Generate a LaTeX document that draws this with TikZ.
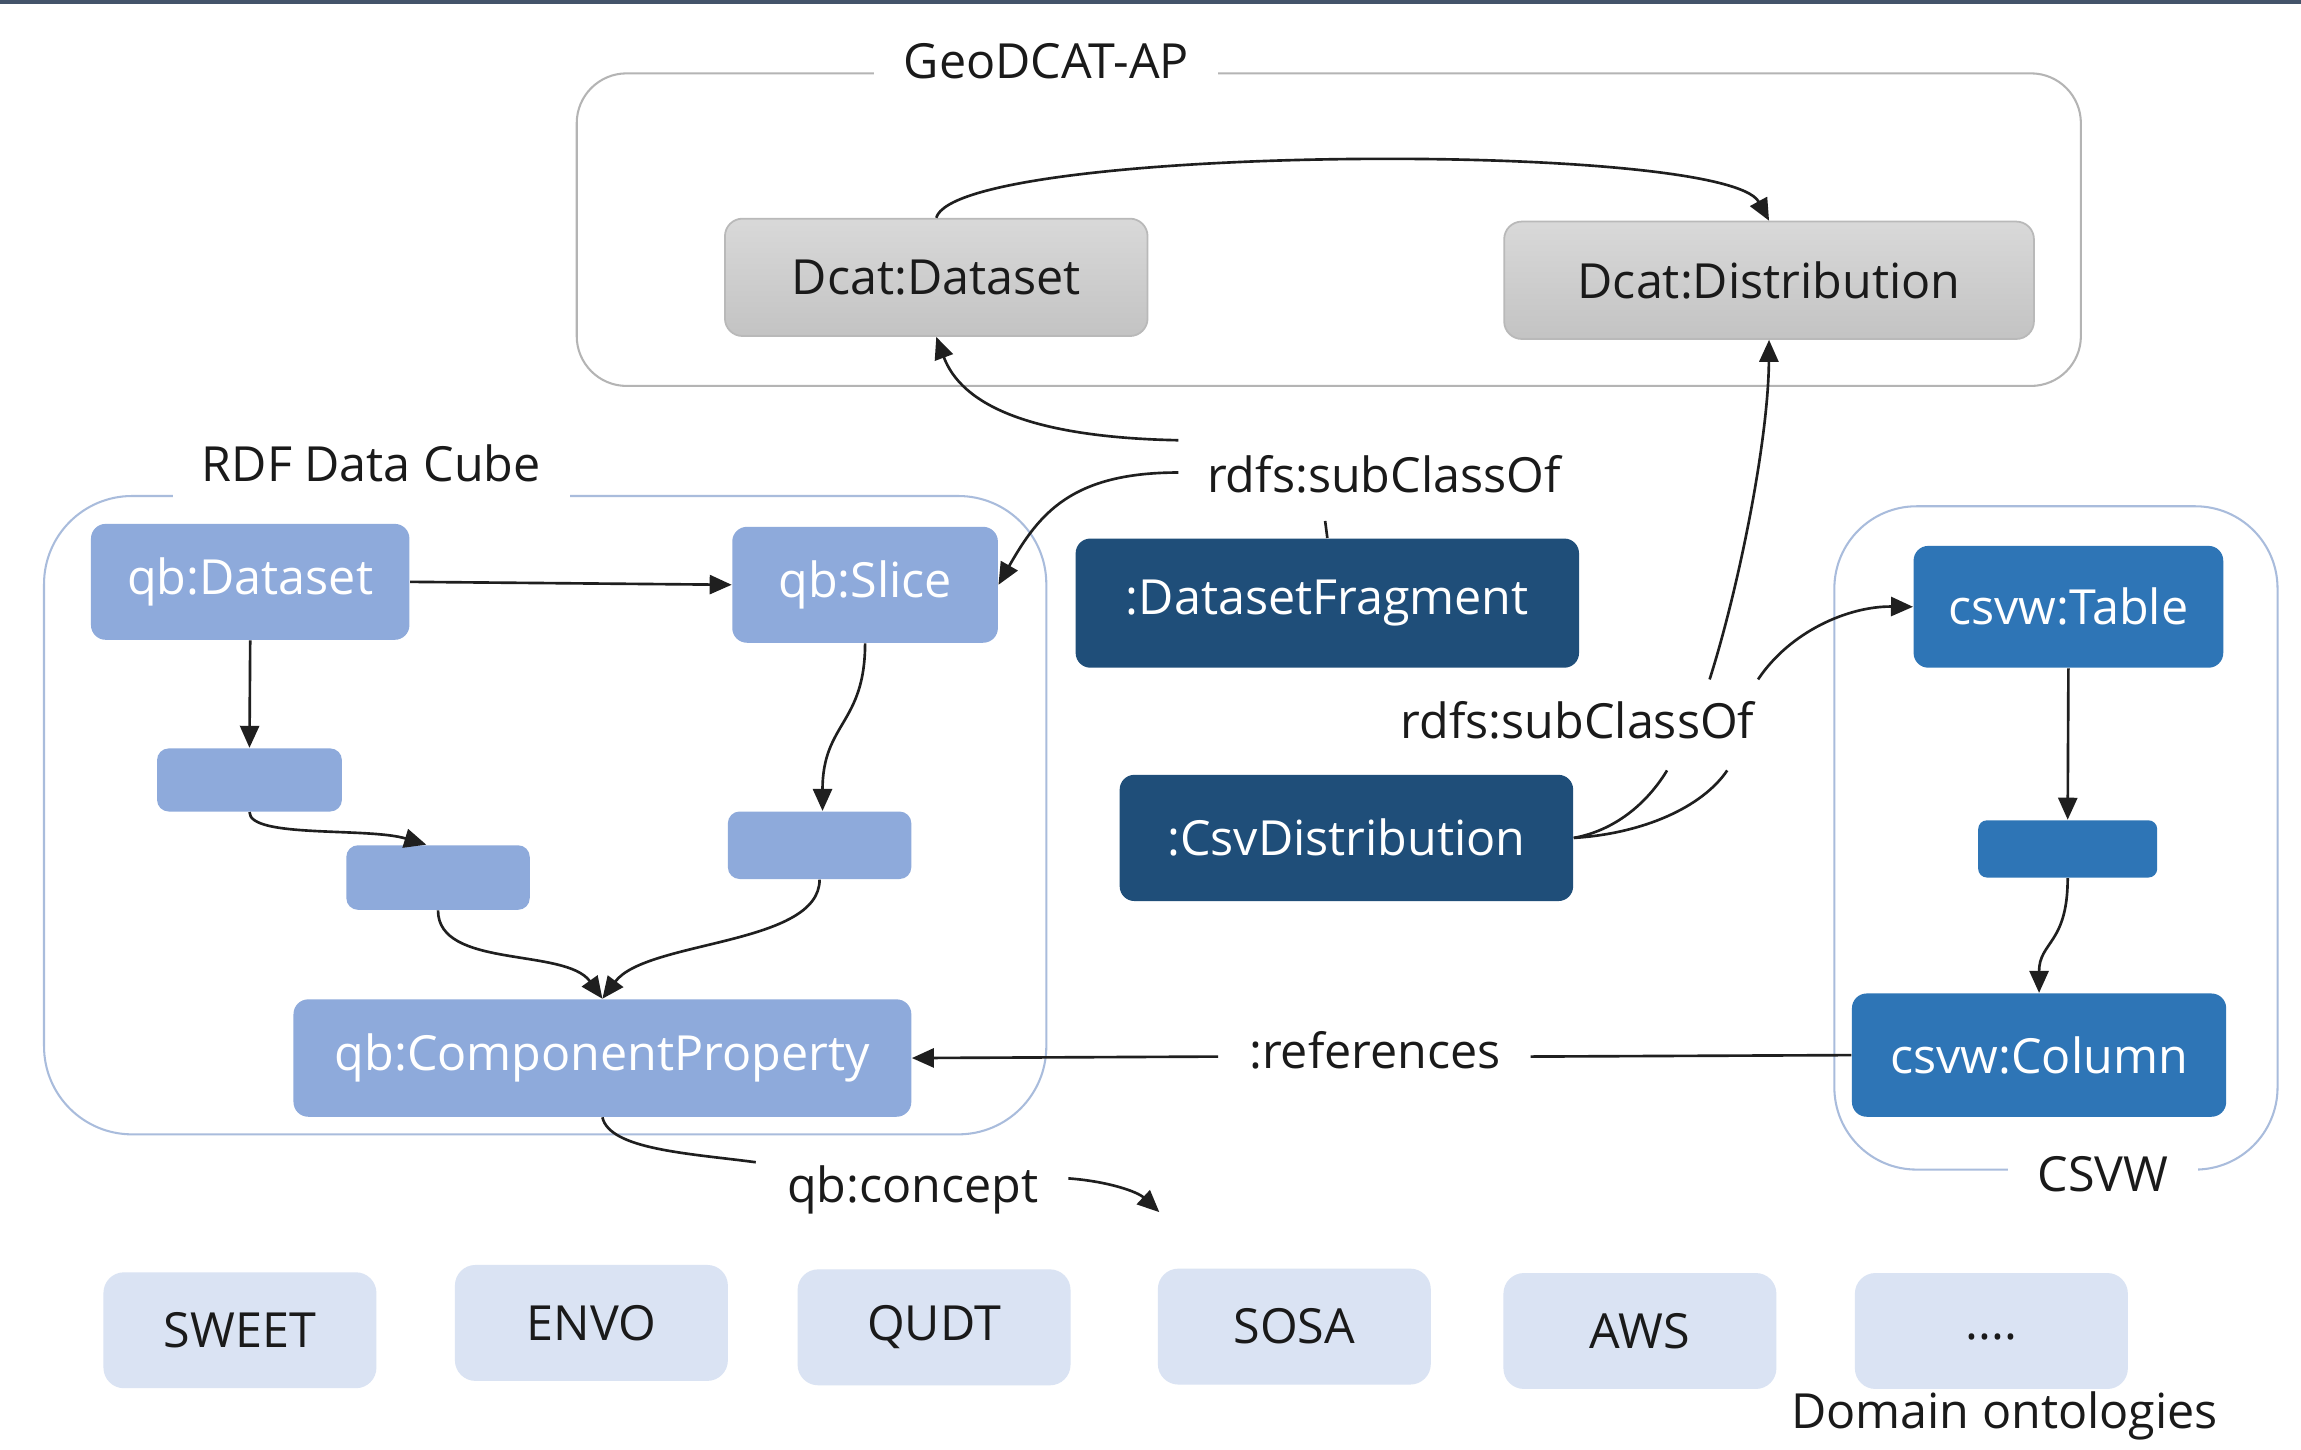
\documentclass[tikz,border=0pt]{standalone}
\usepackage{fontspec}
\setmainfont{Open Sans}
\usetikzlibrary{arrows.meta,calc}
\definecolor{qbblue}{HTML}{8EAADB}
\definecolor{darkblue}{HTML}{1F4E79}
\definecolor{csvwblue}{HTML}{2E75B6}
\definecolor{ontoblue}{HTML}{DAE3F3}
\definecolor{grayborder}{HTML}{B4B4B4}
\definecolor{blueborder}{HTML}{A9BCDC}
\definecolor{topline}{HTML}{44546A}
\definecolor{txt}{HTML}{1A1A1A}
\begin{document}
\begin{tikzpicture}[x=0.5pt,y=-0.5pt,
  font=\fontsize{16.5}{20}\selectfont,
  box/.style={rectangle, rounded corners=5pt, inner sep=0pt, align=center},
  wh/.style 2 args={minimum width=#1, minimum height=#2},
  graybox/.style={box, rounded corners=6pt, top color=gray!30, bottom color=gray!47, draw=gray!55, line width=0.6pt, text=txt},
  qbbox/.style={box, fill=qbblue, text=white},
  darkbox/.style={box, fill=darkblue, text=white},
  csvwbox/.style={box, fill=csvwblue, text=white},
  ontobox/.style={box, rounded corners=7pt, fill=ontoblue, text=txt, wh={93pt}{39.5pt}},
  grouplabel/.style={fill=white, inner xsep=10pt, inner ysep=6pt, text=txt},
  edgelabel/.style={inner sep=1pt, text=txt},
  conn/.style={line width=0.9pt, draw=black!88},
  arr/.style={conn, -{Triangle[length=7.5pt,width=6.5pt]}},
]
\useasboundingbox (0,0) rectangle (1568,988);
\fill[white] (0,0) rectangle (1568,988);
\fill[topline] (0,0) rectangle (1568,2.5);

% containers
\draw[grayborder, line width=0.7pt, rounded corners=17pt] (393,50) rectangle (1418,263);
\node[grouplabel] (geolab) at (713,42) {GeoDCAT-AP};
\draw[blueborder, line width=0.7pt, rounded corners=30pt] (30,338) rectangle (713,773);
\node[grouplabel] (rdflab) at (253,316) {RDF Data Cube};
\draw[blueborder, line width=0.7pt, rounded corners=28pt] (1250,345) rectangle (1552,797);
\node[grouplabel] (csvwlab) at (1433,800) {CSVW};

% GeoDCAT nodes
\node[graybox, wh={144pt}{40pt}] (dcatds) at (638,189) {Dcat:Dataset};
\node[graybox, wh={180.5pt}{40pt}] (dcatdist) at (1205.5,191) {Dcat:Distribution};

% RDF data cube nodes
\node[qbbox, wh={108.5pt}{39.5pt}] (qbds) at (170.5,396.5) {qb:Dataset};
\node[qbbox, wh={90.5pt}{39.5pt}] (qbslice) at (589.5,398.5) {qb:Slice};
\node[qbbox, rounded corners=4pt, wh={63pt}{21.5pt}] (s1) at (170,531.5) {};
\node[qbbox, rounded corners=4pt, wh={62.5pt}{22pt}] (s2) at (298.5,598) {};
\node[qbbox, rounded corners=4pt, wh={62.5pt}{23pt}] (s3) at (558.5,576) {};
\node[qbbox, wh={210.5pt}{40pt}] (qbcp) at (410.5,721) {qb:ComponentProperty};

% middle nodes
\node[darkbox, wh={171.5pt}{44pt}] (dsfrag) at (904.5,411) {:DatasetFragment};
\node[darkbox, wh={154.5pt}{43pt}] (csvdist) at (917.5,571) {:CsvDistribution};

% CSVW nodes
\node[csvwbox, wh={105.5pt}{41.5pt}] (table) at (1409.5,413.5) {csvw:Table};
\node[csvwbox, rounded corners=3pt, wh={61pt}{19.5pt}] (csmall) at (1409,578.5) {};
\node[csvwbox, wh={127.5pt}{42pt}] (column) at (1389.5,719) {csvw:Column};

% ontologies
\node[ontobox] (sweet) at (163.5,906.5) {SWEET};
\node[ontobox] (envo) at (403,901.5) {ENVO};
\node[ontobox] (qudt) at (636.5,904.5) {QUDT};
\node[ontobox] (sosa) at (882,904) {SOSA};
\node[ontobox] (aws) at (1117.5,907) {AWS};
\node[ontobox] (dots) at (1357,907) {\raisebox{-3pt}[0pt][0pt]{....}};
\node[edgelabel] (domlab) at (1366,965) {Domain ontologies};

% edge labels
\node[edgelabel] (lab1) at (943,323) {rdfs:subClassOf};
\node[edgelabel] (lab2) at (1075,491) {rdfs:subClassOf};
\node[edgelabel] (labref) at (937,716) {:references};
\node[edgelabel] (labcon) at (622,811) {qb:concept};

% free ends
\coordinate (l1a) at (803,300);
\coordinate (l1b) at (803,322);
\coordinate (l1c) at (903,355);
\coordinate (l2a) at (1136,525);
\coordinate (l2b) at (1177,525);
\coordinate (l2c) at (1165,463);
\coordinate (l2d) at (1198,463);
\coordinate (refa) at (1043,720);
\coordinate (refb) at (830,720);
\coordinate (cona) at (515,792);
\coordinate (conb) at (728,803);
\coordinate (conc) at (790,826);

% GeoDCAT edge
\draw[arr] (dcatds.north) .. controls +(15,-50) and +(-30,-55) .. (dcatdist.north);

% RDF data cube edges
\draw[arr] (qbds.east) -- (qbslice.west);
\draw[arr] (qbds.south) -- (s1.north);
\draw[arr] (s1.south) .. controls +(0,18) and +(-40,-12) .. ([xshift=-4pt]s2.north);
\draw[arr] (qbslice.south) .. controls +(0,55) and +(0,-60) .. ([xshift=1pt]s3.north);
\draw[arr] (s2.south) .. controls +(0,40) and +(-25,-35) .. (qbcp.north);
\draw[arr] (s3.south) .. controls +(0,45) and +(30,-40) .. (qbcp.north);

% subClassOf 1
\draw[conn] (dsfrag.north) -- (l1c);
\draw[arr] (l1a) .. controls (700,298) and (655,275) .. (dcatds.south);
\draw[arr] (l1b) .. controls (730,322) and (708,350) .. (qbslice.east);

% subClassOf 2
\draw[conn] (csvdist.east) .. controls (1100,566) and (1122,548) .. (l2a);
\draw[conn] (csvdist.east) .. controls (1120,568) and (1160,550) .. (l2b);
\draw[arr] (l2c) .. controls (1185,400) and (1205,300) .. (dcatdist.south);
\draw[arr] (l2d) .. controls (1220,430) and (1260,413) .. (table.west);

% CSVW edges
\draw[arr] (table.south) -- (csmall.north);
\draw[arr] (csmall.south) .. controls +(0,45) and +(0,-35) .. (column.north);

% references
\draw[conn] (column.west) -- (refa);
\draw[arr] (refb) -- (qbcp.east);

% qb:concept
\draw[conn] (qbcp.south) .. controls +(5,22) and +(-45,-6) .. (cona);
\draw[arr] (conb) .. controls (755,805) and (775,812) .. (conc);
\end{tikzpicture}
\end{document}
